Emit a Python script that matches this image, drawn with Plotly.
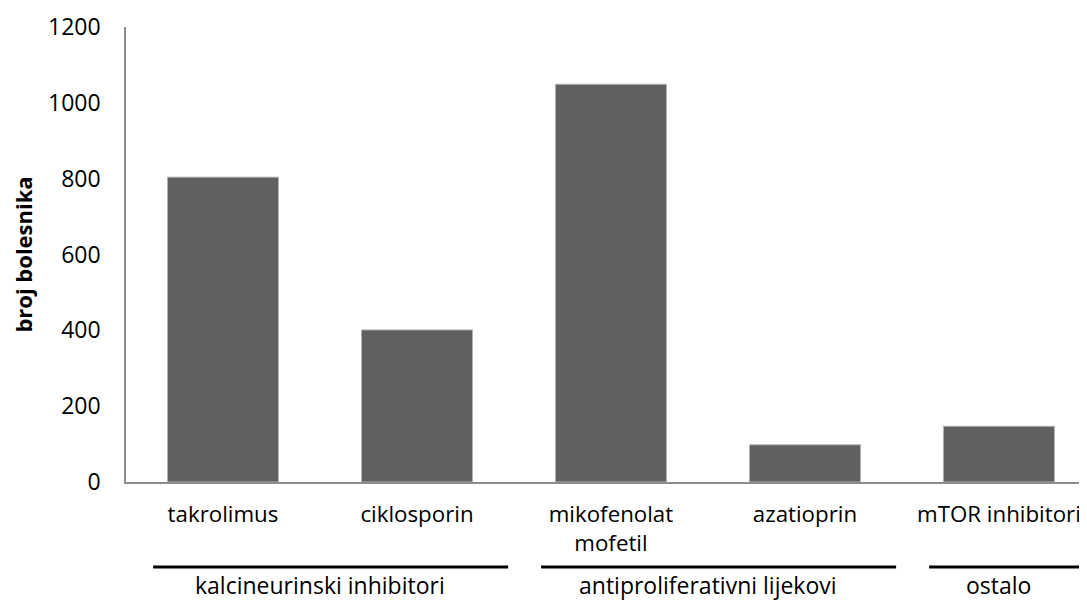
import plotly.graph_objects as go

lijekovi = ["takrolimus", "ciklosporin", "mikofenolat<br>mofetil", "azatioprin", "mTOR inhibitori"]
broj = [804, 401, 1049, 98, 147]
skupine = ["kalcineurinski inhibitori", "antiproliferativni lijekovi", "ostalo"]
skupina_od = [0, 2, 4]
skupina_do = [1, 3, 4]

FONT = "Open Sans"

fig = go.Figure()
fig.add_trace(go.Bar(
    x=list(range(len(lijekovi))),
    y=broj,
    width=0.572,
    marker=dict(color="#606060", line=dict(color="#b0b0b0", width=1)),
))

# the page adds an 8px body margin, so the figure is 8px smaller
fig.update_layout(
    width=1079, height=593,
    margin=dict(t=19, b=119, l=118, r=0),
    plot_bgcolor="white", paper_bgcolor="white",
    showlegend=False,
    font=dict(family=FONT, size=23, color="black"),
)
fig.update_xaxes(
    tickmode="array", tickvals=list(range(len(lijekovi))), ticktext=lijekovi,
    tickfont=dict(size=22.3),
    range=[-0.5, 4.454], showline=True, linecolor="#8c8c8c", linewidth=1.5,
    ticks="", showgrid=False, zeroline=False, ticklabelstandoff=11,
)
fig.update_yaxes(
    range=[0, 1200], dtick=200, showline=True, linecolor="#8c8c8c", linewidth=1.5,
    ticks="", showgrid=False, zeroline=False, ticklabelstandoff=19,
    title=dict(text="<b>broj bolesnika</b>", font=dict(size=22), standoff=10),
)

for naziv, a, b in zip(skupine, skupina_od, skupina_do):
    fig.add_shape(type="line", xref="x", yref="paper",
                  x0=a - 0.36, x1=b + 0.47 if b < 4 else b + 1.0,
                  y0=-0.187, y1=-0.187, line=dict(color="black", width=3))
    fig.add_annotation(text=naziv, xref="x", yref="paper", x=(a + b) / 2, y=-0.226,
                       showarrow=False, yanchor="middle", font=dict(size=23))

fig.write_html("out.html")
